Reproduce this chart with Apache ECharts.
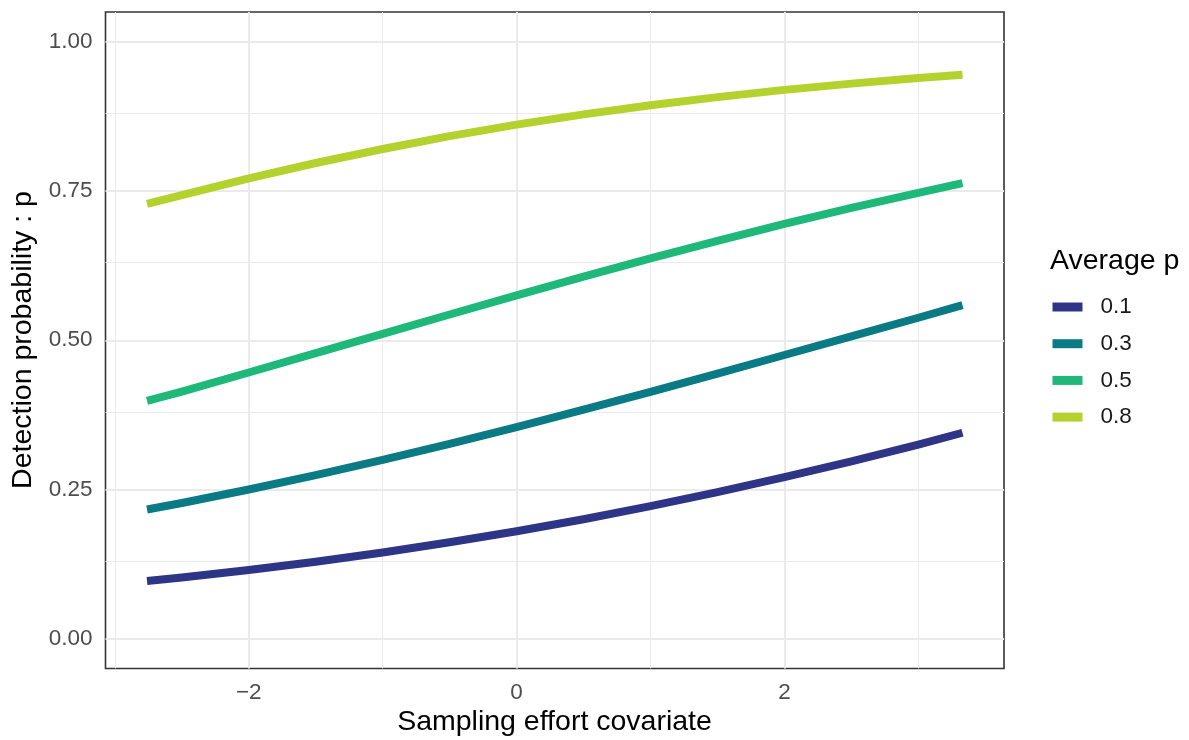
<!DOCTYPE html>
<html>
<head>
<meta charset="utf-8">
<script src="https://cdn.jsdelivr.net/npm/echarts@6/dist/echarts.min.js"></script>
<style>
html,body{margin:0;padding:0;background:#fff;}
#chart{width:1189px;height:740px;}
</style>
</head>
<body>
<div id="chart"></div>
<script>
// Data
const xValues = [-2.76, -2.5, -2, -1.5, -1, -0.5, 0, 0.5, 1, 1.5, 2, 2.5, 3, 3.33];
const seriesNames = ['0.1', '0.3', '0.5', '0.8'];
const p01 = [0.0965, 0.1024, 0.115, 0.129, 0.1445, 0.1615, 0.180, 0.200, 0.222, 0.2455, 0.2705, 0.297, 0.325, 0.345];
const p03 = [0.2164, 0.2273, 0.250, 0.274, 0.2997, 0.3265, 0.3546, 0.3837, 0.4136, 0.4442, 0.4753, 0.5065, 0.5377, 0.5587];
const p05 = [0.3984, 0.414, 0.446, 0.4783, 0.5107, 0.5431, 0.5752, 0.6066, 0.6371, 0.6666, 0.6949, 0.7217, 0.747, 0.7633];
const p08 = [0.7284, 0.743, 0.7712, 0.797, 0.8205, 0.842, 0.8612, 0.8784, 0.8938, 0.9074, 0.9195, 0.930, 0.9393, 0.945];
const xTicks = [-2, 0, 2];
const yTicks = [0, 0.25, 0.5, 0.75, 1];
const xMinorGrid = [-3, -1, 1, 3];
const yMinorGrid = [0.125, 0.375, 0.625, 0.875];
const colors = ['#2E3586', '#0A7A85', '#1EB87A', '#B4D22E'];

const allValues = [p01, p03, p05, p08];
const FONT = '"Liberation Sans", Arial, Helvetica, sans-serif';

const gridLines = [];
xMinorGrid.forEach(v => gridLines.push({xAxis: v, lineStyle: {color: '#EBEBEB', width: 1, type: 'solid'}}));
yMinorGrid.forEach(v => gridLines.push({yAxis: v, lineStyle: {color: '#EBEBEB', width: 1, type: 'solid'}}));
xTicks.forEach(v => gridLines.push({xAxis: v, lineStyle: {color: '#EBEBEB', width: 2, type: 'solid'}}));
yTicks.forEach(v => gridLines.push({yAxis: v, lineStyle: {color: '#EBEBEB', width: 2, type: 'solid'}}));

const series = [{
  name: '__grid',
  type: 'line',
  data: [],
  silent: true,
  z: 1,
  markLine: {
    silent: true,
    symbol: 'none',
    label: {show: false},
    animation: false,
    data: gridLines
  }
}];
seriesNames.forEach((n, i) => {
  series.push({
    name: n,
    type: 'line',
    z: 5,
    data: xValues.map((x, j) => [x, allValues[i][j]]),
    smooth: false,
    showSymbol: false,
    symbol: 'none',
    color: colors[i],
    itemStyle: {color: colors[i]},
    lineStyle: {color: colors[i], width: 8, cap: 'butt', join: 'round'}
  });
});

const chart = echarts.init(document.getElementById('chart'), null, {renderer: 'canvas'});
chart.setOption({
  animation: false,
  backgroundColor: '#ffffff',
  grid: {
    left: 105.5, right: 185, top: 12, bottom: 71.5,
    show: true, borderColor: '#333333', borderWidth: 1.6, backgroundColor: 'transparent'
  },
  xAxis: {
    type: 'value',
    min: -3.07, max: 3.64,
    axisLine: {show: false},
    splitLine: {show: false},
    axisTick: {show: true, customValues: xTicks, length: 7, lineStyle: {color: '#333333', width: 1.6}},
    axisLabel: {
      customValues: xTicks, margin: 13, color: '#4D4D4D', fontSize: 22.5, fontFamily: FONT,
      formatter: v => (v < 0 ? '\u2212' + Math.abs(v) : String(v))
    }
  },
  yAxis: {
    type: 'value',
    min: -0.05, max: 1.05,
    axisLine: {show: false},
    splitLine: {show: false},
    axisTick: {show: true, customValues: yTicks, length: 7, lineStyle: {color: '#333333', width: 1.6}},
    axisLabel: {
      customValues: yTicks, margin: 13, color: '#4D4D4D', fontSize: 22.5, fontFamily: FONT,
      formatter: v => v.toFixed(2)
    }
  },
  legend: {
    data: seriesNames,
    orient: 'vertical',
    left: 1047.5, top: 290,
    itemWidth: 30, itemHeight: 9, itemGap: 12.7,
    icon: 'rect',
    textStyle: {fontSize: 22.5, color: '#1A1A1A', fontFamily: FONT, lineHeight: 24, padding: [0, 0, 0, 13]}
  },
  graphic: [
    {type: 'text', x: 1050, y: 261.5, silent: true,
     style: {text: 'Average p', font: '28.5px ' + FONT, fill: '#000000', textAlign: 'left', textVerticalAlign: 'middle'}},
    {type: 'text', x: 554.5, y: 722.5, silent: true,
     style: {text: 'Sampling effort covariate', font: '28.5px ' + FONT, fill: '#000000', textAlign: 'center', textVerticalAlign: 'middle'}},
    {type: 'text', x: 23, y: 340, rotation: Math.PI / 2, silent: true,
     style: {text: 'Detection probability : p', font: '28.5px ' + FONT, fill: '#000000', textAlign: 'center', textVerticalAlign: 'middle'}}
  ],
  series: series
});
</script>
</body>
</html>
